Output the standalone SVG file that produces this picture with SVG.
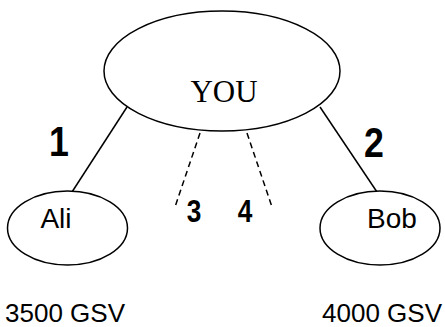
<svg xmlns="http://www.w3.org/2000/svg" width="445" height="327" viewBox="0 0 445 327">
<style>
.n{fill:#fff;stroke:#000;stroke-width:1.5}
.c{stroke:#000;stroke-width:1.5;fill:none}
.d{stroke-dasharray:6 4}
.t{font-family:"Liberation Sans",Arial,sans-serif;fill:#000}
.b{font-weight:bold;text-anchor:middle}
</style>
<rect width="445" height="327" fill="#fff"/>
<g id="connectors">
<line class="c" x1="127" y1="107" x2="72" y2="192"/>
<line class="c" x1="320" y1="107" x2="377" y2="192"/>
<line class="c d" x1="200" y1="133" x2="175" y2="207"/>
<line class="c d" x1="247" y1="133" x2="272" y2="207"/>
<text class="t b" transform="translate(59 156) scale(0.85 1)" font-size="42">1</text>
<text class="t b" transform="translate(374 157) scale(0.85 1)" font-size="42">2</text>
<text class="t b" transform="translate(194 222) scale(0.82 1)" font-size="32">3</text>
<text class="t b" transform="translate(245 222) scale(0.82 1)" font-size="32">4</text>
</g>
<g id="you">
<ellipse class="n" cx="222" cy="71" rx="118" ry="60"/>
<text x="224" y="102" font-family="Liberation Serif,'Times New Roman',serif" font-size="31" text-anchor="middle">YOU</text>
</g>
<g id="ali">
<ellipse class="n" cx="67.5" cy="228" rx="60" ry="37"/>
<text class="t" x="56" y="228" font-size="28" text-anchor="middle">Ali</text>
</g>
<g id="bob">
<ellipse class="n" cx="380" cy="228" rx="60" ry="37"/>
<text class="t" x="392" y="228" font-size="28" text-anchor="middle">Bob</text>
</g>
<text class="t" x="5" y="322" font-size="26">3500 GSV</text>
<text class="t" x="322" y="322" font-size="26">4000 GSV</text>
</svg>
